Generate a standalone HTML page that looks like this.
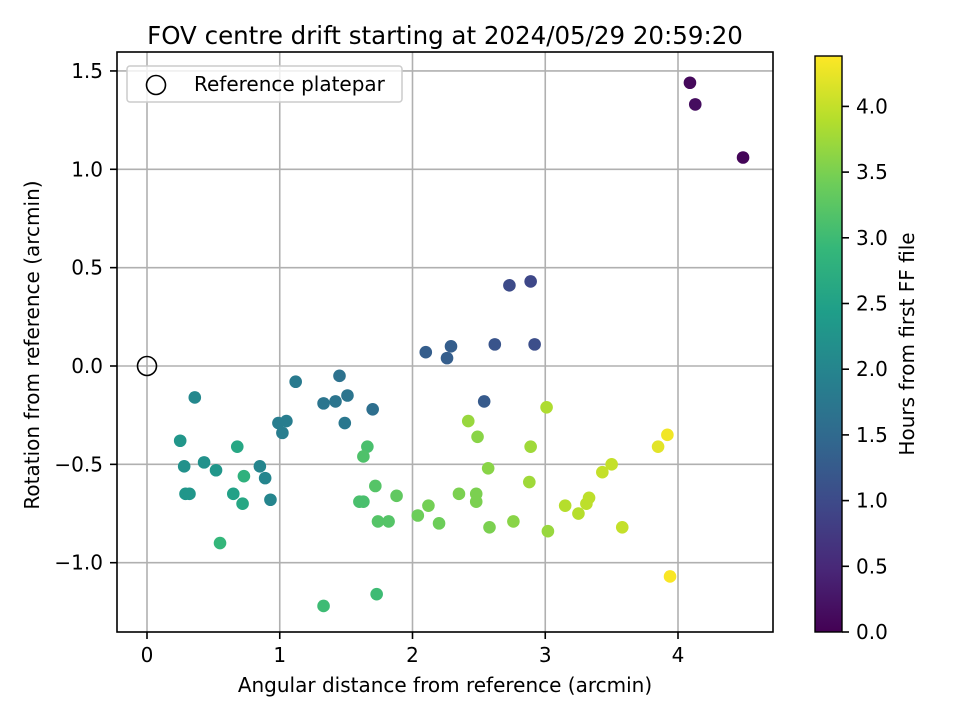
<!DOCTYPE html>
<html><head><meta charset="utf-8"><style>
body{margin:0;background:#fff}
svg{font-family:"DejaVu Sans","Liberation Sans",sans-serif}
</style></head><body>
<svg id="c" width="960" height="720" xmlns="http://www.w3.org/2000/svg">
<defs><linearGradient id="vir" x1="0" y1="1" x2="0" y2="0"></linearGradient></defs>
<rect width="960" height="720" fill="#fff"/>
<text x="445" y="44" text-anchor="middle" font-size="24.5">FOV centre drift starting at 2024/05/29 20:59:20</text>
<g id="grid"></g>
<g id="pts"></g>
<rect x="117" y="52" width="656" height="580" fill="none" stroke="#000" stroke-width="1.6"/>
<g id="axes"></g>
<text x="445" y="692" text-anchor="middle" font-size="20">Angular distance from reference (arcmin)</text>
<text transform="translate(39,345) rotate(-90)" text-anchor="middle" font-size="20">Rotation from reference (arcmin)</text>
<g>
<rect x="127" y="66" width="275" height="36" rx="3" fill="#fff" fill-opacity="0.8" stroke="#ccc" stroke-width="1.5"/>
<circle cx="156" cy="85" r="9.5" fill="none" stroke="#000" stroke-width="1.6"/>
<text x="194" y="91" font-size="20">Reference platepar</text>
</g>
<rect x="815" y="56" width="27" height="576" fill="url(#vir)" stroke="#000" stroke-width="1.4"/>
<g id="cb"></g>
<text transform="translate(914,344) rotate(-90)" text-anchor="middle" font-size="20">Hours from first FF file</text>
</svg>
<script>
const xs=[4.09,4.13,4.49,2.73,2.89,2.10,2.29,2.26,2.62,2.92,2.54,1.12,1.45,1.33,1.42,1.51,1.49,1.70,0.99,1.05,1.02,0.36,0.25,0.28,0.43,0.52,0.29,0.32,0.55,0.68,0.73,0.72,0.65,0.85,0.89,0.93,1.33,1.73,1.66,1.63,1.60,1.63,1.72,1.74,1.82,1.88,2.04,2.12,2.20,2.35,2.42,2.49,2.48,2.48,2.57,2.58,2.76,2.88,2.89,3.01,3.02,3.15,3.25,3.31,3.33,3.43,3.50,3.58,3.85,3.92,3.94];
const ys=[1.44,1.33,1.06,0.41,0.43,0.07,0.10,0.04,0.11,0.11,-0.18,-0.08,-0.05,-0.19,-0.18,-0.15,-0.29,-0.22,-0.29,-0.28,-0.34,-0.16,-0.38,-0.51,-0.49,-0.53,-0.65,-0.65,-0.90,-0.41,-0.56,-0.70,-0.65,-0.51,-0.57,-0.68,-1.22,-1.16,-0.41,-0.46,-0.69,-0.69,-0.61,-0.79,-0.79,-0.66,-0.76,-0.71,-0.80,-0.65,-0.28,-0.36,-0.65,-0.69,-0.52,-0.82,-0.79,-0.59,-0.41,-0.21,-0.84,-0.71,-0.75,-0.70,-0.67,-0.54,-0.50,-0.82,-0.41,-0.35,-1.07];
const hours=[0.1,0.15,0.05,1.0,0.95,1.3,1.3,1.3,1.15,1.05,1.25,1.8,1.65,1.7,1.7,1.7,1.75,1.6,1.85,1.85,1.85,2.05,2.3,2.2,2.2,2.3,2.3,2.3,2.9,2.6,2.8,2.6,2.5,2.0,2.0,2.0,3.0,3.0,3.1,3.15,3.1,3.1,3.2,3.2,3.2,3.3,3.4,3.45,3.4,3.5,3.7,3.6,3.5,3.5,3.6,3.5,3.6,3.75,3.75,3.85,3.7,3.9,3.9,3.95,3.95,4.0,4.0,4.0,4.2,4.3,4.35];
const xTicks=[0,1,2,3,4];
const yTicks=[1.5,1.0,0.5,0.0,-0.5,-1.0];
const cTicks=[0,0.5,1,1.5,2,2.5,3,3.5,4];
const vmax=4.38;
const X=v=>147+v*132.75, Y=v=>366-v*196.7, C=v=>632-v*131.4;
const V=[[68,1,84],[72,40,120],[62,73,137],[49,104,142],[38,130,142],[31,158,137],[53,183,121],[109,205,89],[180,222,44],[253,231,37]];
function vir(t){t=Math.max(0,Math.min(1,t))*(V.length-1);const i=Math.min(Math.floor(t),V.length-2),f=t-i;const c=V[i].map((a,k)=>Math.round(a+(V[i+1][k]-a)*f));return `rgb(${c})`;}
const NS="http://www.w3.org/2000/svg";
function mk(tag,at,par){const e=document.createElementNS(NS,tag);for(const k in at)e.setAttribute(k,at[k]);par.appendChild(e);return e;}
const g=document.getElementById('grid'),ax=document.getElementById('axes'),pts=document.getElementById('pts'),cb=document.getElementById('cb');
const grad=document.getElementById('vir');
V.forEach((c,i)=>mk('stop',{offset:i/(V.length-1),'stop-color':`rgb(${c})`},grad));
xTicks.forEach(v=>{const x=X(v);
 const l=mk('line',{x1:x,x2:x,y1:52,y2:632,stroke:'#b0b0b0','stroke-width':1.6},g);
 
 mk('line',{x1:x,x2:x,y1:632,y2:639,stroke:'#000','stroke-width':1.6},ax);
 const t=mk('text',{x:x,y:662,'text-anchor':'middle','font-size':20},ax);t.textContent=String(v);
 });
yTicks.forEach(v=>{const y=Y(v);
 const l=mk('line',{x1:117,x2:773,y1:y,y2:y,stroke:'#b0b0b0','stroke-width':1.6},g);
 
 mk('line',{x1:110,x2:117,y1:y,y2:y,stroke:'#000','stroke-width':1.6},ax);
 const t=mk('text',{x:103,y:y+7,'text-anchor':'end','font-size':20},ax);t.textContent=(v<0?'\u2212':'')+Math.abs(v).toFixed(1);
 });
xs.forEach((v,i)=>{const c=mk('circle',{cx:X(v),cy:Y(ys[i]),r:6.3,fill:vir(hours[i]/vmax)},pts);
 });
const ref=mk('circle',{cx:X(0),cy:Y(0),r:9.5,fill:'none',stroke:'#000','stroke-width':1.6},pts);

cTicks.forEach(v=>{const y=C(v);
 mk('line',{x1:842,x2:849,y1:y,y2:y,stroke:'#000','stroke-width':1.6},cb);
 const t=mk('text',{x:856,y:y+7,'font-size':20},cb);t.textContent=v.toFixed(1);
 });
</script>
</body></html>
